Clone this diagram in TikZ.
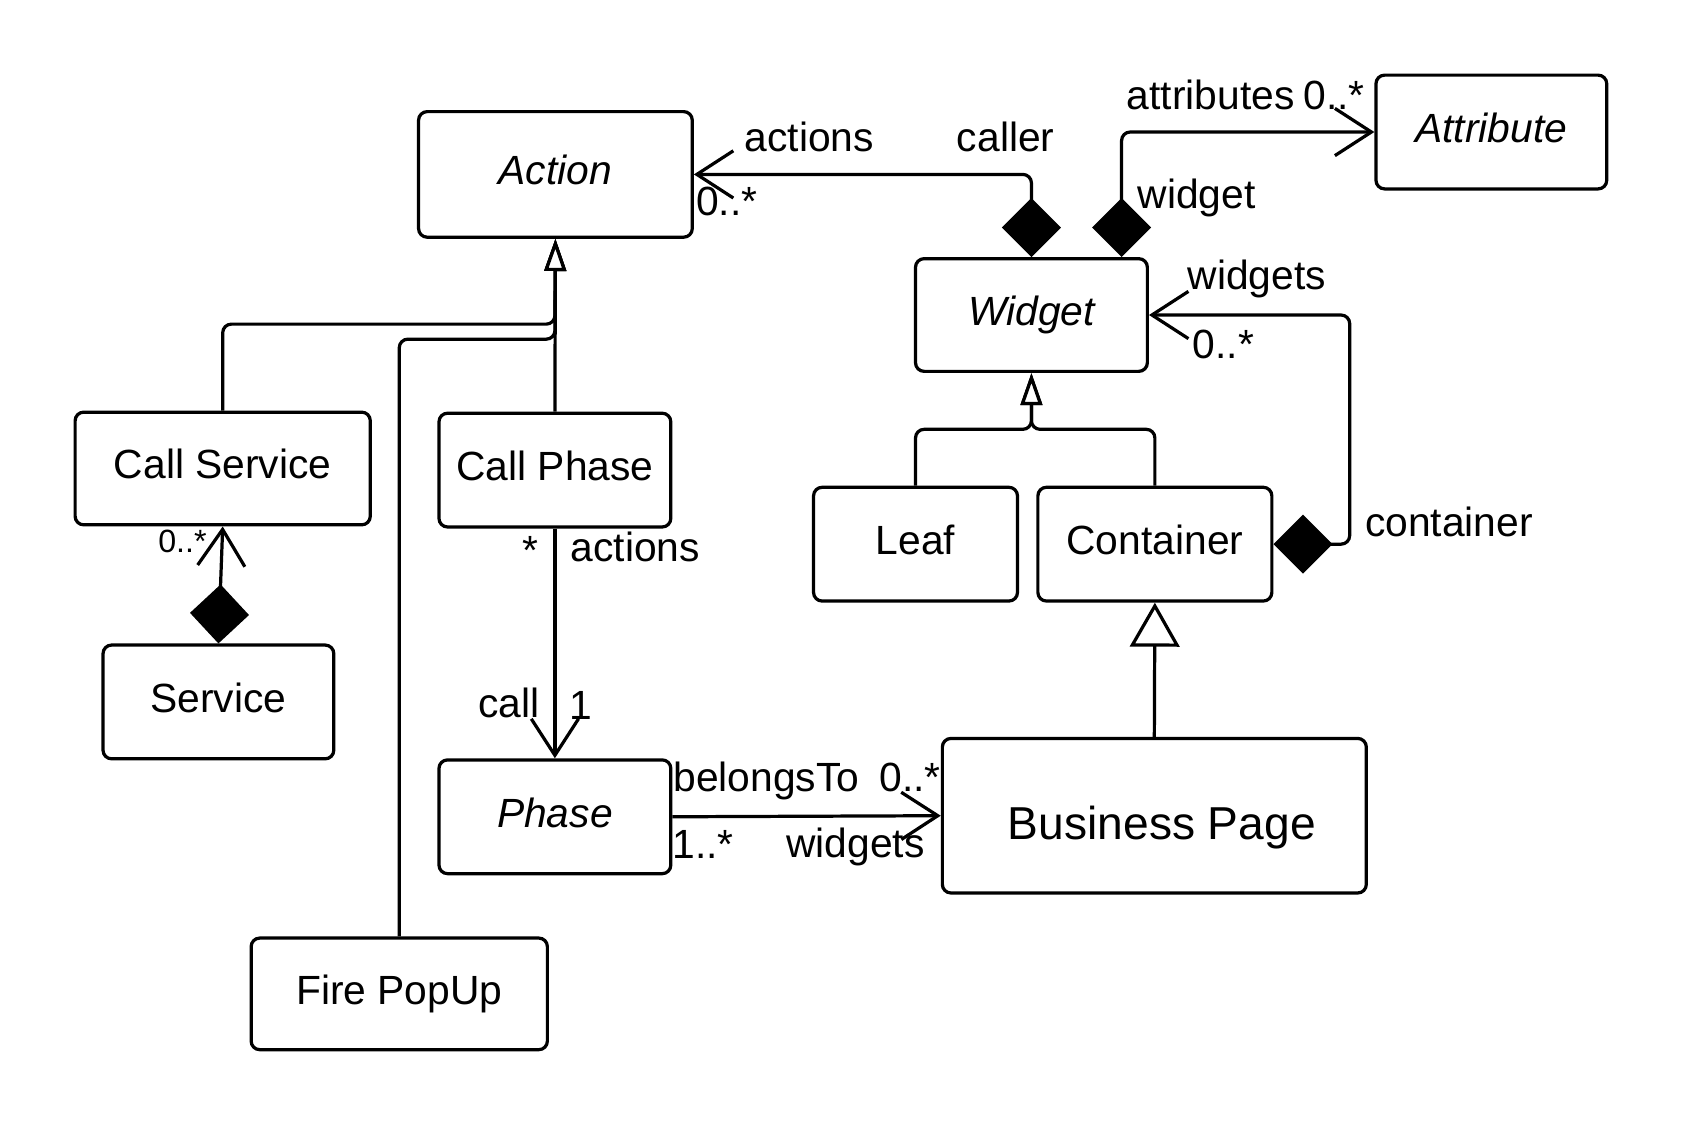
\documentclass[tikz,border=0pt]{standalone}
\usepackage{fontspec}
\setmainfont{Liberation Sans}
\usetikzlibrary{arrows.meta}

\begin{document}
\begin{tikzpicture}[x=0.5pt,y=-0.5pt,line width=1.5pt,
  cls/.style={draw,rounded corners=4pt,inner sep=0pt,text height=13.6pt,text depth=4pt,font=\fontsize{19}{22}\selectfont},
  abscls/.style={cls,font=\fontsize{19}{22}\selectfont\itshape},
  lbl/.style={inner sep=0pt,text height=13.6pt,text depth=0pt,font=\fontsize{19}{22}\selectfont},
  assoc/.style={rounded corners=4pt,-{Straight Barb[length=17pt,width=22pt]}},
  comp/.style={rounded corners=4pt,{Diamond[length=27.5pt,width=27.5pt,fill=black]}-{Straight Barb[length=17pt,width=22pt]}},
  gen/.style={rounded corners=4pt,-{Triangle[length=15pt,width=10pt,fill=white]}},
  genbig/.style={-{Triangle[length=20.5pt,width=23pt,fill=white]}}]
  \useasboundingbox (0,0) rectangle (1569,1048);

  % action side
  %boxes
  \node[abscls,minimum width=127.5pt,minimum height=58.5pt] (action) at (517.5,162.5) {Action};
  \node[cls,minimum width=137.5pt,minimum height=52.5pt] (callsvc) at (207.5,436.5) {Call Service};
  \node[cls,minimum width=108pt,minimum height=53pt] (callphase) at (517,438) {Call Phase};
  \node[cls,minimum width=107.5pt,minimum height=53pt] (service) at (203.5,654) {Service};
  \node[abscls,minimum width=108pt,minimum height=53pt] (phase) at (517,761) {Phase};
  \node[cls,minimum width=138pt,minimum height=52pt] (firepopup) at (372,926) {Fire PopUp};
  %links
  \coordinate (joinSvc) at (517,302);
  \coordinate (joinPop) at (517,316);
  \draw[gen] (callphase.north) -- (action.south);
  \draw[gen] (callsvc.north) |- (joinSvc) -- (action.south);
  \draw[gen] (firepopup.north) |- (joinPop) -- (action.south);
  \draw[comp] (service.north) -- (callsvc.south);
  \draw[assoc] (callphase.south) -- (phase.north);
  %labels
  \node[lbl,text height=10.7pt,font=\fontsize{15}{18}\selectfont] (csMult) at (170,504) {0..*};
  \node[lbl] (cpMult) at (494,512) {*};
  \node[lbl] (cpRole) at (592,510) {actions};
  \node[lbl] (phRole) at (474,655) {call};
  \node[lbl] (phMult) at (541,657) {1};

  % widget side
  %boxes
  \node[abscls,minimum width=107.5pt,minimum height=53pt] (attribute) at (1389.5,123) {Attribute};
  \node[abscls,minimum width=108pt,minimum height=52.5pt] (widget) at (961,293.5) {Widget};
  \node[cls,minimum width=95pt,minimum height=53pt] (leaf) at (853,507) {Leaf};
  \node[cls,minimum width=109pt,minimum height=53pt] (container) at (1076,507) {Container};
  \node[cls,minimum width=197.5pt,minimum height=72pt,text height=22.4pt,text depth=0pt,font=\fontsize{21.5}{25}\selectfont] (business) at (1075.5,760) {\hspace*{7pt}Business Page};
  %links
  \coordinate (joinW) at (961,400);
  \draw[comp] (widget.north) |- (action.east);
  \draw[comp] ([xshift=42pt]widget.north) |- (attribute.west);
  \draw[comp] (container.east) -- ++(71,0) |- (widget.east);
  \draw[gen] (leaf.north) |- (joinW) -- (widget.south);
  \draw[gen] (container.north) |- (joinW) -- (widget.south);
  \draw[genbig] (business.north) -- (container.south);
  \draw[assoc] (phase.east) -- (business.west);
  %labels
  \node[lbl] (acRole) at (754,128) {actions};
  \node[lbl] (acMult) at (677,187) {0..*};
  \node[lbl] (wgCaller) at (937,128) {caller};
  \node[lbl] (atRole) at (1128,88) {attributes};
  \node[lbl] (atMult) at (1243,88) {0..*};
  \node[lbl] (atOwner) at (1115,181) {widget};
  \node[lbl] (ctRole) at (1171,256) {widgets};
  \node[lbl] (ctMult) at (1140,320) {0..*};
  \node[lbl] (ctOwner) at (1350,486) {container};
  \node[lbl] (bpRole) at (714,724) {belongsTo};
  \node[lbl] (bpMult) at (848,724) {0..*};
  \node[lbl] (phBpMult) at (655,786) {1..*};
  \node[lbl] (phBpRole) at (797,785) {widgets};
\end{tikzpicture}
\end{document}
